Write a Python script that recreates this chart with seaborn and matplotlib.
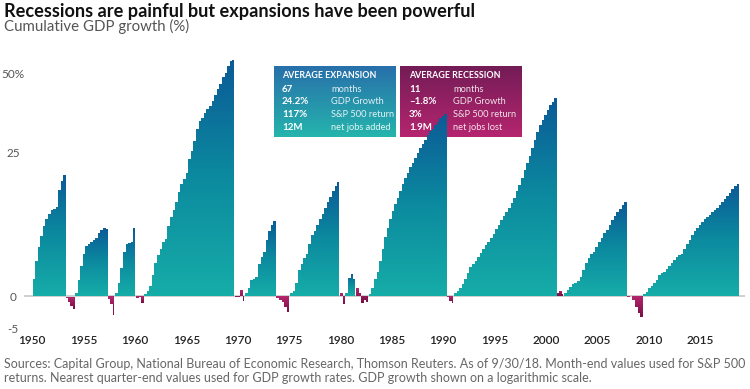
import numpy as np
import matplotlib
matplotlib.use("Agg")
import matplotlib.pyplot as plt
from matplotlib.colors import LinearSegmentedColormap
import seaborn as sns

# turning points (decimal years): trough, peak, trough, peak, ...
turning_points = [1950.05, 1953.30, 1954.18, 1957.40, 1958.08, 1960.12, 1960.90,
                  1969.75, 1970.72, 1973.74, 1975.10, 1979.96, 1980.45, 1981.52,
                  1982.78, 1990.37, 1991.05, 2001.07, 2001.75, 2007.88, 2009.44,
                  2018.78]

# cumulative GDP growth (%) by quarter, expansions
exp_1949 = [2.0, 4.5, 6.5, 8.2, 9.8, 11.0, 12.0, 12.6, 12.9, 13.3, 16.5, 18.5, 19.8]
exp_1954 = [0.3, 1.9, 3.8, 5.4, 6.6, 7.0, 7.3, 7.6, 7.9, 8.6, 9.2, 9.5, 9.4]
exp_1958 = [0.3, 1.5, 3.5, 5.8, 7.0, 7.1, 7.2, 9.5]
exp_1961 = [0.2, 0.6, 1.2, 2.6, 4.1, 5.3, 6.2, 7.3, 7.7, 9.8, 11.4, 12.6, 14.2, 16.2,
            17.8, 18.8, 20.2, 23.4, 25.5, 28.0, 31.5, 33.7, 34.8, 36.3, 37.6, 38.6,
            40.2, 42.3, 44.2, 46.0, 48.8, 50.5, 53.2, 55.0, 56.0]
exp_1970 = [0.3, 1.0, 1.9, 2.1, 2.3, 4.0, 5.0, 5.8, 7.6, 9.0, 10.0, 10.7]
exp_1975 = [0.3, 0.6, 1.5, 3.2, 4.0, 4.8, 5.5, 7.0, 8.3, 9.0, 10.0, 11.0, 12.0, 13.0,
            14.2, 15.2, 16.3, 17.4, 18.3]
exp_1980 = [0.3, 2.2, 2.8, 2.0]
exp_1982 = [0.2, 1.0, 2.0, 3.0, 4.5, 6.2, 8.0, 9.5, 11.0, 12.5, 13.8, 15.0, 16.4, 17.8,
            19.0, 20.3, 21.5, 22.6, 23.8, 25.0, 26.2, 27.4, 28.5, 29.7, 30.8, 31.6,
            32.6, 33.5, 34.6, 35.3, 36.0]
exp_1991 = [0.3, 0.6, 0.9, 1.4, 2.1, 2.8, 3.6, 4.0, 4.5, 5.0, 5.6, 6.2, 6.8, 7.3, 7.8,
            8.5, 9.3, 10.0, 10.8, 11.5, 12.3, 13.1, 13.9, 15.0, 16.3, 17.5, 19.0, 20.8,
            22.6, 24.3, 26.2, 28.5, 30.5, 32.5, 34.2, 35.8, 37.3, 38.7, 40.0, 41.5]
exp_2001 = [0.3, 0.7, 1.1, 1.4, 1.6, 1.8, 2.3, 3.2, 4.2, 4.8, 5.4, 5.8, 6.4, 7.2, 7.8,
            8.6, 9.2, 10.0, 10.8, 11.5, 12.2, 12.9, 13.6, 14.3]
exp_2009 = [0.2, 0.5, 1.0, 1.2, 1.5, 1.9, 2.5, 2.8, 3.0, 3.4, 3.8, 4.2, 4.6, 5.0, 5.3,
            5.5, 6.2, 7.0, 7.6, 8.4, 9.0, 9.5, 10.0, 10.5, 11.0, 11.4, 11.8, 12.3, 12.7,
            13.1, 13.6, 14.2, 14.8, 15.4, 16.0, 16.7, 17.3, 17.9]

# recessions
rec_1953 = [-0.3, -1.0, -1.6, -2.0]
rec_1957 = [-0.4, -1.2, -3.0]
rec_1960 = [-0.3, -0.2, -1.1]
rec_1969 = [-0.1, -0.1, 0.7, -0.8]
rec_1973 = [-0.3, -0.6, -1.0, -1.7, -2.5]
rec_1980 = [0.4, -1.3]
rec_1981 = [1.0, 0.3, -1.1, -0.6, -0.9]
rec_1990 = [-0.2, -0.8, -1.1]
rec_2001 = [0.4, 0.6, 0.2]
rec_2007 = [-0.2, 0.1, -0.6, -1.7, -2.6, -3.3]

expansions = [exp_1949, exp_1954, exp_1958, exp_1961, exp_1970, exp_1975, exp_1980,
              exp_1982, exp_1991, exp_2001, exp_2009]
recessions = [rec_1953, rec_1957, rec_1960, rec_1969, rec_1973, rec_1980, rec_1981,
              rec_1990, rec_2001, rec_2007]

x_ticks = list(range(1950, 2016, 5))
y_ticks = [-5, 0, 25, 50]
y_labels = ['-5', '0', '25', '50%']

exp_box = [('67', 'months'), ('24.2%', 'GDP Growth'), ('117%', 'S&P 500 return'),
           ('12M', 'net jobs added')]
rec_box = [('11', 'months'), ('\u20131.8%', 'GDP Growth'), ('3%', 'S&P 500 return'),
           ('1.9M', 'net jobs lost')]

title = 'Recessions are painful but expansions have been powerful'
subtitle = 'Cumulative GDP growth (%)'
footer_1 = ('Sources: Capital Group, National Bureau of Economic Research, Thomson Reuters. '
            'As of 9/30/18. Month-end values used for S&P 500')
footer_2 = ('returns. Nearest quarter-end values used for GDP growth rates. '
            'GDP growth shown on a logarithmic scale.')

# y scale: log-like above zero, compressed linear below
C = 21.0
NEG = 0.0351


def fwd(g):
    g = np.asarray(g, dtype=float)
    return np.where(g >= 0, np.log1p(np.clip(g, 0, None) / C), g * NEG)


def inv(f):
    f = np.asarray(f, dtype=float)
    return np.where(f >= 0, C * np.expm1(np.clip(f, 0, None)), f / NEG)


sns.set_theme(style='white')
plt.rcParams['font.family'] = ['Lato', 'DejaVu Sans']

W, H = 750, 389
fig = plt.figure(figsize=(W / 100, H / 100), dpi=100)
ax = fig.add_axes([24 / W, (H - 335) / H, 721 / W, 285 / H])
ax.set_yscale('function', functions=(fwd, inv))

exp_cmap = LinearSegmentedColormap.from_list('exp', ['#16aca8', '#0c8a9f', '#0b5a97'])
rec_cmap = LinearSegmentedColormap.from_list('rec', ['#b8276f', '#7a1046'])


def draw_segment(x0, x1, vals, cmap, up):
    vals = np.asarray(vals, dtype=float)
    edges = np.linspace(x0, x1, len(vals) + 1)
    yy = np.append(vals, vals[-1])
    poly = ax.fill_between(edges, yy, 0, step='post', lw=0, facecolor='none', zorder=2)
    lo, hi = min(vals.min(), 0), max(vals.max(), 0)
    v = np.linspace(lo, hi, 256)
    f = fwd(v)
    t = (f - f.min()) / (f.max() - f.min())
    if not up:
        t = 1 - t
    im = ax.imshow(t.reshape(-1, 1), extent=[x0, x1, lo, hi], origin='lower',
                   aspect='auto', cmap=cmap, vmin=0, vmax=1, zorder=2,
                   interpolation='bilinear')
    im.set_clip_path(poly.get_paths()[0], transform=ax.transData)


ax.axhline(0, color='#c4c4c4', lw=1.1, zorder=1)

for i, vals in enumerate(expansions):
    draw_segment(turning_points[2 * i], turning_points[2 * i + 1], vals, exp_cmap, True)
for i, vals in enumerate(recessions):
    draw_segment(turning_points[2 * i + 1], turning_points[2 * i + 2], vals, rec_cmap, False)


# info boxes (drawn below the area fills)
def ax_frac(px, py):
    return (px - 24) / 721, (335 - py) / 285


def info_box(left, right, top, bottom, c_top, c_bot, head, rows, xv, xl):
    x0, y0 = ax_frac(left, bottom)
    x1, y1 = ax_frac(right, top)
    cm = LinearSegmentedColormap.from_list('b', [c_bot, c_top])
    g = np.linspace(0, 1, 64).reshape(-1, 1)
    ax.imshow(g, extent=[x0, x1, y0, y1], transform=ax.transAxes, origin='lower',
              aspect='auto', cmap=cm, zorder=0.5, interpolation='bilinear')
    fig.text(xv / W, 1 - 75 / H, head, color='white', fontsize=6.4, weight='bold',
             va='center', ha='left')
    for j, (val, lab) in enumerate(rows):
        yc = 1 - (89 + 13 * j) / H
        fig.text(xv / W, yc, val, color='white', fontsize=7, weight='bold',
                 va='center', ha='left')
        fig.text(xl / W, yc, lab, color='white', alpha=0.88, fontsize=6.7,
                 va='center', ha='left')


info_box(274, 396, 66, 137, '#2870aa', '#25b4ad', 'AVERAGE EXPANSION', exp_box, 282, 331)
info_box(400, 522, 66, 137, '#731c56', '#b5256f', 'AVERAGE RECESSION', rec_box, 409, 453)

ax.set_xlim(1949.22, 2019.36)
ax.set_ylim(-6.09, 59.9)
ax.set_xticks(x_ticks)
ax.set_xticklabels([str(x) for x in x_ticks], color='#222222', fontsize=8.5,
                   weight='semibold')
ax.set_yticks(y_ticks)
ax.set_yticklabels(y_labels, color='#555555', fontsize=8.5, ha='center')
ax.tick_params(axis='x', length=0, pad=0)
ax.tick_params(axis='y', length=0, pad=8)
ax.grid(False)
sns.despine(ax=ax, left=True, bottom=True, top=True, right=True)

fig.text(4 / W, 1 - 17 / H, title, fontsize=13.1, weight='bold', color='#111111',
         va='baseline', ha='left')
fig.text(4 / W, 1 - 31 / H, subtitle, fontsize=10.8, color='#555555',
         va='baseline', ha='left')
fig.text(4 / W, 1 - 368 / H, footer_1, fontsize=9.0, color='#666666',
         va='baseline', ha='left')
fig.text(4 / W, 1 - 382 / H, footer_2, fontsize=9.0, color='#666666',
         va='baseline', ha='left')

fig.savefig('out.png', dpi=100)
